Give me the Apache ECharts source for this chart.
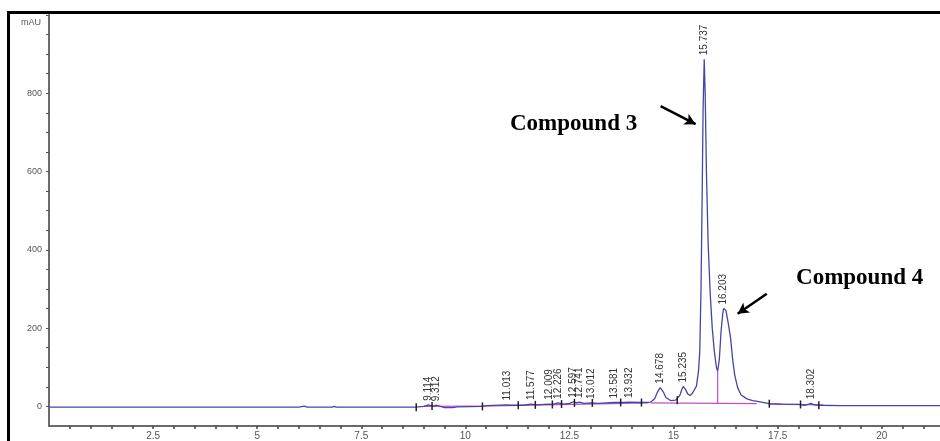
<!DOCTYPE html>
<html>
<head>
<meta charset="utf-8">
<script src="https://cdn.jsdelivr.net/npm/echarts@6/dist/echarts.min.js"></script>
<style>
html,body{margin:0;padding:0;background:#fff;}
#chart{width:940px;height:441px;}
</style>
</head>
<body>
<div id="chart"></div>
<script>
// Chromatogram trace (retention time, min) and absorbance (mAU)
const traceTime = [0, 3, 6.0, 6.13, 6.2, 6.8, 6.85, 6.9, 8.8, 9.0, 9.114, 9.2, 9.312, 9.4, 9.5, 9.7, 9.8, 10.4, 10.5,
  11.0, 11.013, 11.1, 11.4, 11.577, 11.7, 12.0, 12.009, 12.1, 12.226, 12.35, 12.5, 12.597, 12.67, 12.741, 12.85, 13.012,
  13.2, 13.581, 13.8, 13.932, 14.2, 14.45, 14.55, 14.62, 14.678, 14.75, 14.82, 14.93, 15.05, 15.15, 15.20, 15.235, 15.28,
  15.34, 15.40, 15.45, 15.55, 15.60, 15.63, 15.66, 15.69, 15.71, 15.737, 15.76, 15.79, 15.83, 15.88, 15.93, 15.98, 16.03,
  16.06, 16.10, 16.14, 16.18, 16.203, 16.26, 16.31, 16.37, 16.42, 16.47, 16.54, 16.62, 16.75, 16.9, 17.05, 17.2, 17.3,
  17.6, 18.0, 18.15, 18.25, 18.302, 18.38, 18.5, 19.0, 20.0, 21.4];
const traceMAU = [-2, -2, -2, 1, -2, -2, 0, -2, -2, 0, 4, 1, 3, 0, -3, -3, -1, 0, 2,
  4, 5, 3, 3, 6, 4, 6, 7, 5, 9, 6, 8, 12, 9, 11, 8, 9,
  8, 10, 10, 11, 10, 11, 20, 38, 48, 38, 22, 15, 16, 28, 44, 51, 45,
  32, 28, 33, 52, 90, 140, 300, 560, 760, 887, 800, 600, 420, 290, 200, 140, 100,
  90, 120, 190, 235, 250, 245, 215, 175, 120, 80, 48, 30, 20, 15, 12, 9, 7,
  6, 5, 3, 6, 8, 4, 3, 2, 2, 2];

// Integrated peaks: retention time labels and apex heights
const peakTimes = [9.114, 9.312, 11.013, 11.577, 12.009, 12.226, 12.597, 12.741, 13.012, 13.581, 13.932, 14.678, 15.235, 15.737, 16.203, 18.302];
const peakHeights = [4, 3, 5, 6, 7, 9, 12, 11, 9, 10, 11, 48, 51, 887, 250, 8];

// Peak boundary markers
const boundTimes = [8.82, 9.2, 10.41, 11.27, 11.68, 12.09, 12.31, 12.62, 13.05, 13.73, 14.23, 15.09, 17.3, 18.05, 18.49];
const boundMAU = [-2, 1, 0, 3, 4, 5, 6, 9, 9, 10, 10, 16, 7, 5, 3];

// Integration baselines (magenta)
const baseSegments = [
  [[9.0, 0], [10.4, 1]],
  [[10.4, 1], [14.4, 9]],
  [[14.45, 9], [17.0, 7]],
  [[17.3, 6], [18.6, 4]],
  [[16.06, 7], [16.06, 90]]
];

// Annotations
const annoNames = ['Compound 3', 'Compound 4'];
const annoPos = [[12.6, 721], [19.47, 329]];
const arrowFrom = [[14.69, 767], [17.24, 288]];
const arrowTo = [[15.53, 721], [16.54, 237]];

// Axis ticks and labels
const yLabels = [0, 200, 400, 600, 800];
const yTicks = [0, 50, 100, 150, 200, 250, 300, 350, 400, 450, 500, 550, 600, 650, 700, 750, 800, 850, 900, 950, 1000];
const xLabels = [2.5, 5, 7.5, 10, 12.5, 15, 17.5, 20];
const xTicks = [0.5, 1, 1.5, 2, 2.5, 3, 3.5, 4, 4.5, 5, 5.5, 6, 6.5, 7, 7.5, 8, 8.5, 9, 9.5, 10, 10.5, 11, 11.5, 12, 12.5,
  13, 13.5, 14, 14.5, 15, 15.5, 16, 16.5, 17, 17.5, 18, 18.5, 19, 19.5, 20, 20.5, 21];

const trace = traceTime.map((t, i) => [t, traceMAU[i]]);
const peaks = peakTimes.map((t, i) => ({ value: [t, peakHeights[i]], name: t.toFixed(3) }));
const bounds = boundTimes.map((t, i) => [t, boundMAU[i]]);

const baseSeries = baseSegments.map(seg => ({
  type: 'line', data: seg, showSymbol: false, silent: true, z: 3,
  lineStyle: { color: '#c050c8', width: 1.2 }
}));

const chart = echarts.init(document.getElementById('chart'));
chart.setOption({
  backgroundColor: '#fff',
  animation: false,
  grid: { left: 49, right: 0, top: 15, bottom: 15, containLabel: false },
  graphic: [{
    type: 'rect', left: 6, top: 10, z: 100, silent: true,
    shape: { width: 1000, height: 500 },
    style: { fill: 'none', stroke: '#000', lineWidth: 3 }
  }],
  xAxis: {
    type: 'value', min: 0, max: 21.4,
    axisLine: { onZero: false, lineStyle: { color: '#6a6a6a', width: 2 } },
    axisTick: { customValues: xTicks, length: 3, inside: false, lineStyle: { color: '#444', width: 1.5 } },
    axisLabel: { customValues: xLabels, color: '#555', fontSize: 10, margin: 5, fontFamily: 'Liberation Sans' },
    splitLine: { show: false }
  },
  yAxis: {
    type: 'value', min: -50, max: 1000,
    name: 'mAU', nameLocation: 'end', nameGap: -12,
    nameTextStyle: { color: '#555', fontSize: 9, align: 'right', padding: [0, 8, 0, 0], fontFamily: 'Liberation Sans' },
    axisLine: { lineStyle: { color: '#6a6a6a', width: 2 } },
    axisTick: { customValues: yTicks, length: 3, lineStyle: { color: '#555' } },
    axisLabel: { customValues: yLabels, color: '#555', fontSize: 9, margin: 7, fontFamily: 'Liberation Sans' },
    splitLine: { show: false }
  },
  series: [
    ...baseSeries,
    {
      type: 'line', name: 'trace', data: trace, showSymbol: false, z: 4,
      lineStyle: { color: '#4646a0', width: 1.3 },
      markLine: {
        silent: true, symbol: ['none', 'arrow'], symbolSize: [9, 11],
        lineStyle: { color: '#000', width: 2.5, type: 'solid' },
        label: { show: false },
        data: arrowFrom.map((f, i) => [{ coord: f }, { coord: arrowTo[i] }])
      }
    },
    {
      type: 'scatter', data: bounds, symbol: 'rect', symbolSize: [1.5, 8], z: 5, silent: true,
      itemStyle: { color: '#222', opacity: 1 }
    },
    {
      type: 'scatter', data: peaks, symbolSize: 0, z: 6, silent: true,
      itemStyle: { opacity: 1 },
      label: {
        show: true, formatter: '{b}', rotate: 90, position: 'top', distance: 4,
        align: 'left', verticalAlign: 'middle',
        color: '#333', fontSize: 10, fontFamily: 'Liberation Sans'
      }
    },
    {
      type: 'scatter', data: annoNames.map((n, i) => ({ value: annoPos[i], name: n })),
      symbolSize: 0, z: 7, silent: true,
      itemStyle: { opacity: 1 },
      label: {
        show: true, formatter: '{b}', position: 'inside', opacity: 1,
        color: '#000', textBorderWidth: 0, fontSize: 23, fontWeight: 'bold', fontFamily: 'Liberation Serif'
      }
    }
  ]
});
</script>
</body>
</html>
